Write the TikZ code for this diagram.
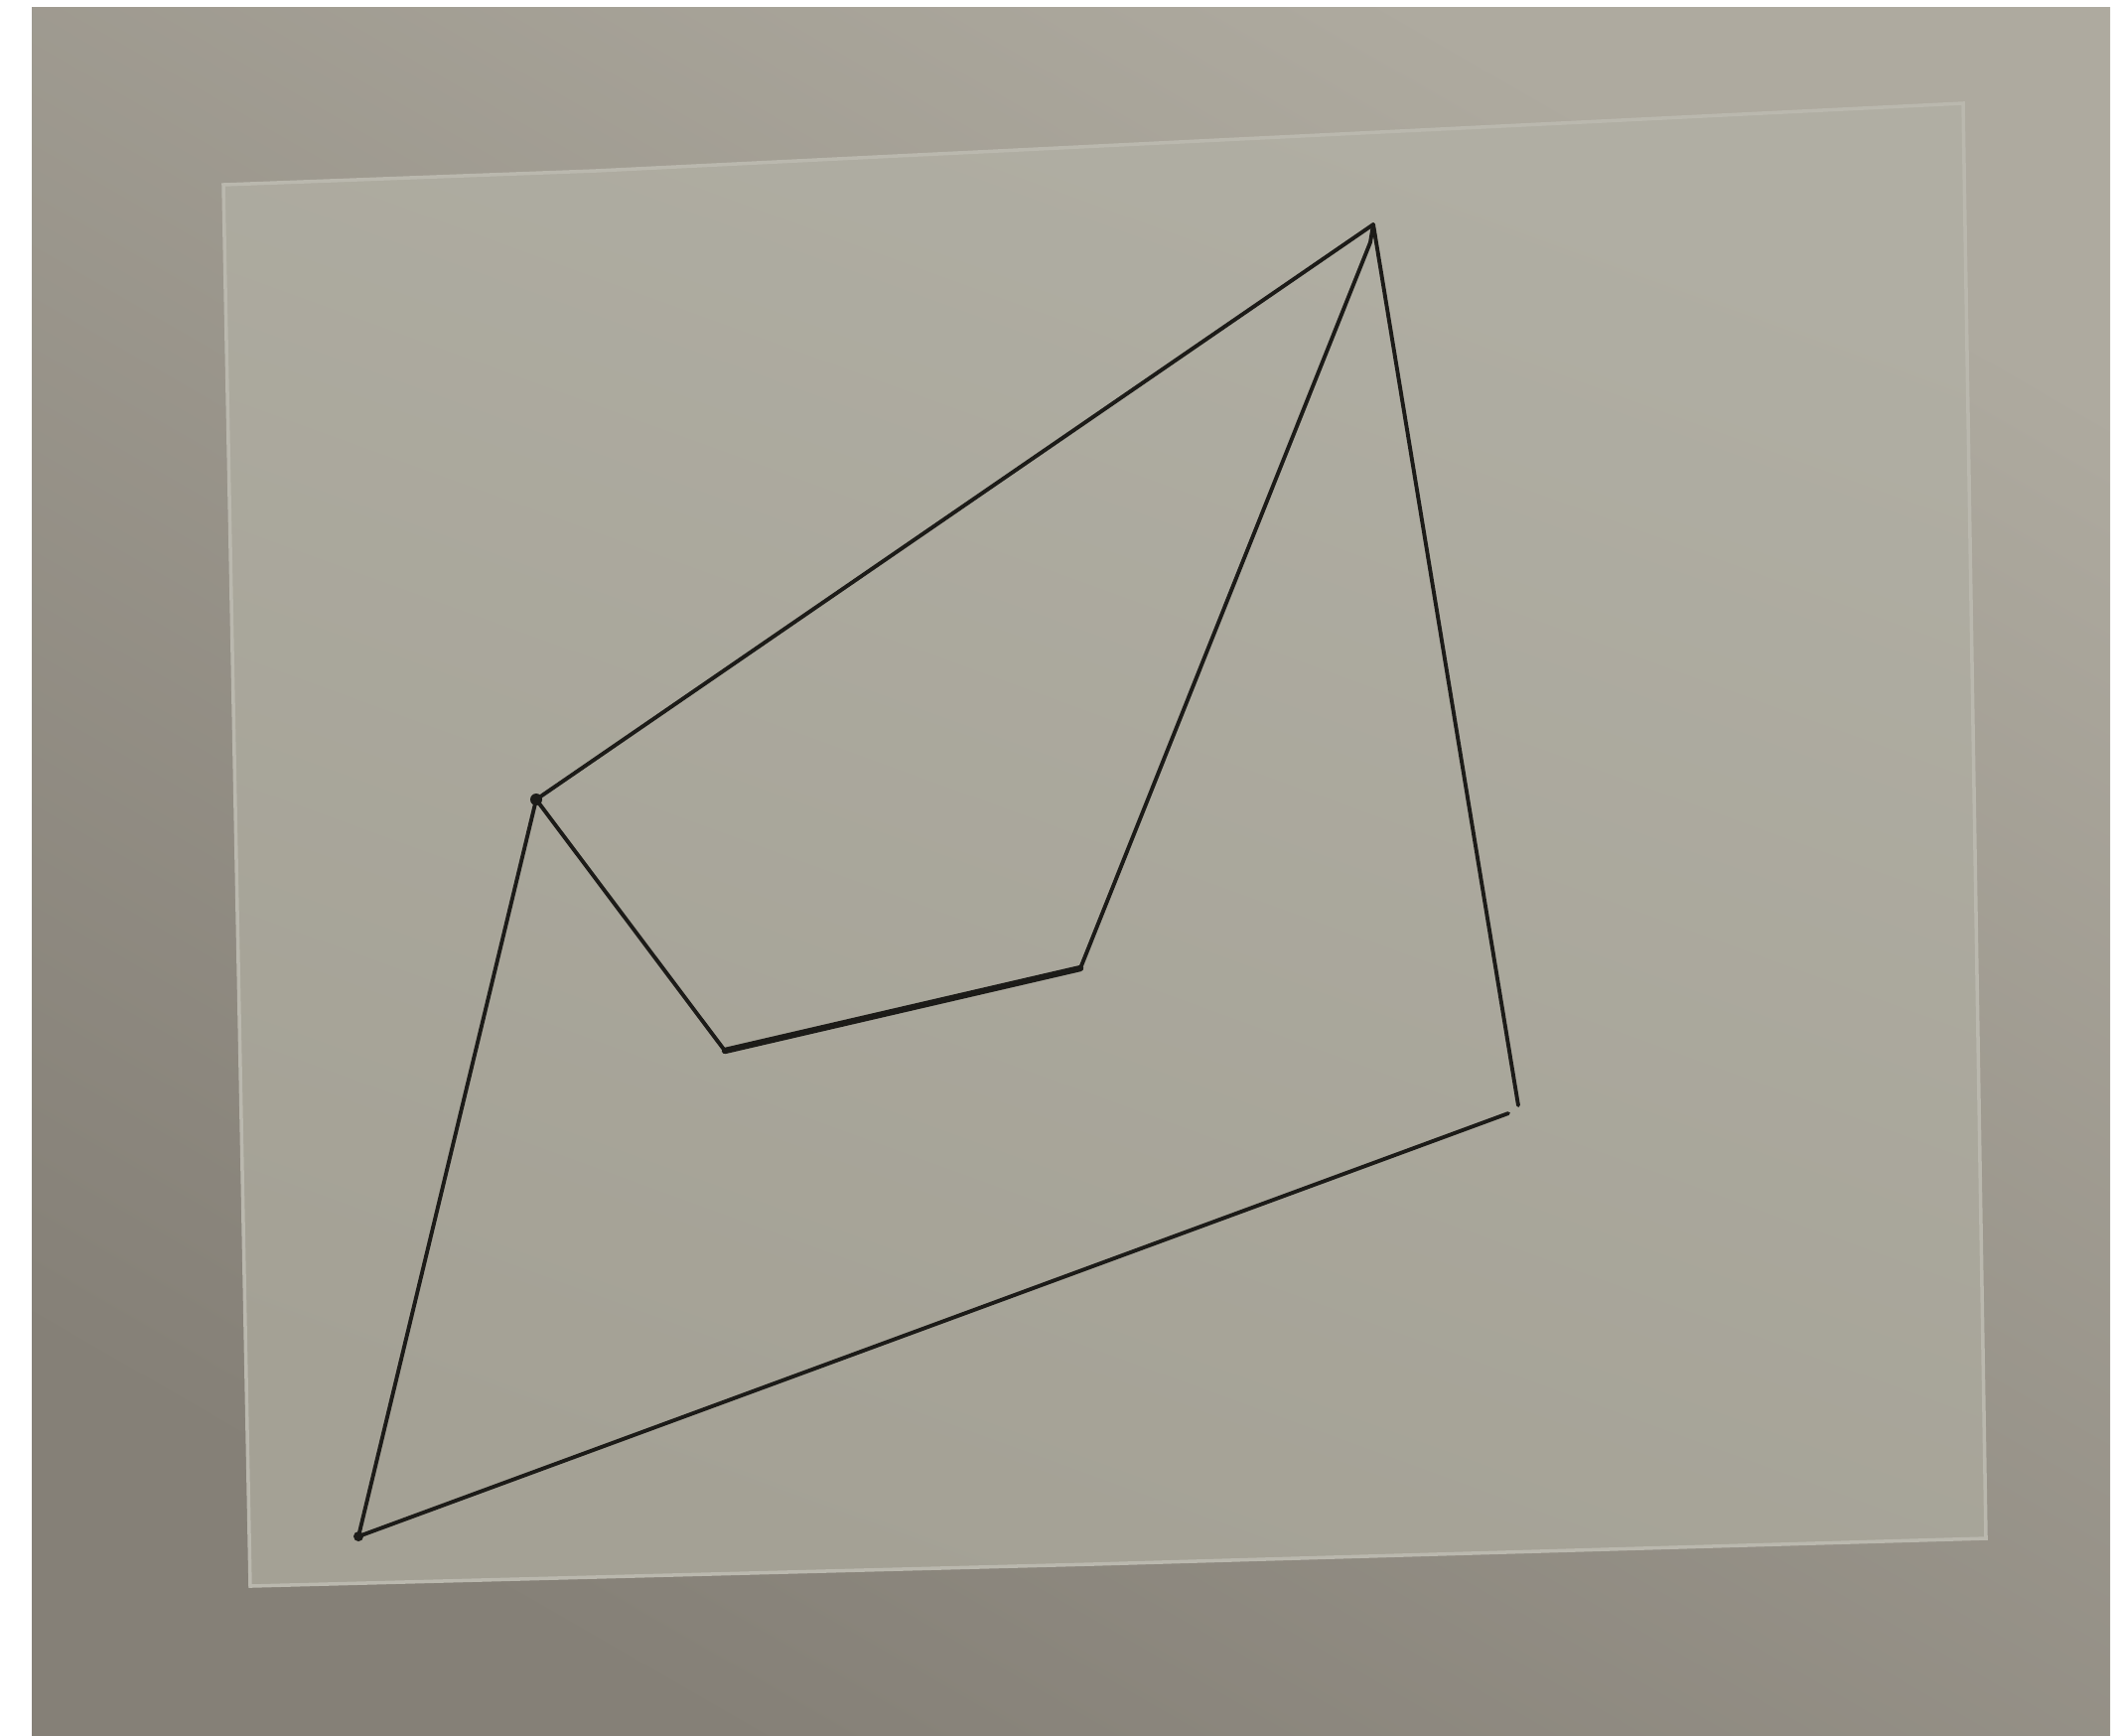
\documentclass[tikz,border=0pt]{standalone}
\usetikzlibrary{calc}
\definecolor{bglight}{HTML}{AEAA9F}
\definecolor{bgdark}{HTML}{858077}
\definecolor{papertop}{HTML}{B0AEA3}
\definecolor{paperbot}{HTML}{A4A195}
\definecolor{paperedge}{HTML}{BAB8AE}
\definecolor{ink}{HTML}{1C1B18}
\tikzset{
  pen/.style={draw=ink, line width=1.1pt, line cap=round, line join=round},
  heavypen/.style={draw=ink, line width=1.8pt, line cap=round},
}
\begin{document}
\begin{tikzpicture}[x=0.01cm,y=-0.01cm]
\useasboundingbox (0,0) rectangle (2131,1747);
\fill[white] (0,0) rectangle (2131,1747);
\shade[shading=axis, top color=bglight, bottom color=bgdark, shading angle=-30] (32,7) rectangle (2125,1747);
% paper sheet
\shade[shading=axis, top color=papertop, bottom color=paperbot, shading angle=-20, draw=paperedge, line width=1pt]
  (225,186) -- (600,172) -- (1977,104) -- (2000,1549) -- (1100,1575) -- (252,1597) -- cycle;
% vertices
\coordinate (T) at (1383,226);
\coordinate (T2) at (1380,244);
\coordinate (L) at (540,805);
\coordinate (I1) at (730,1058);
\coordinate (I2) at (1088,975);
\coordinate (R) at (1529,1113);
\coordinate (R2) at (1519,1121);
\coordinate (B) at (361,1547);
% edges
\draw[pen] (T) -- (L);
\draw[pen] (L) -- (I1);
\draw[heavypen] (I1) -- (I2);
\draw[pen] (I2) -- (T2) -- (T);
\draw[pen] (T) -- (R);
\draw[pen] (R2) -- (B);
\draw[pen] (B) -- (L);
\fill[ink] (L) circle (6);
\fill[ink] (B) circle (5);
\end{tikzpicture}
\end{document}
